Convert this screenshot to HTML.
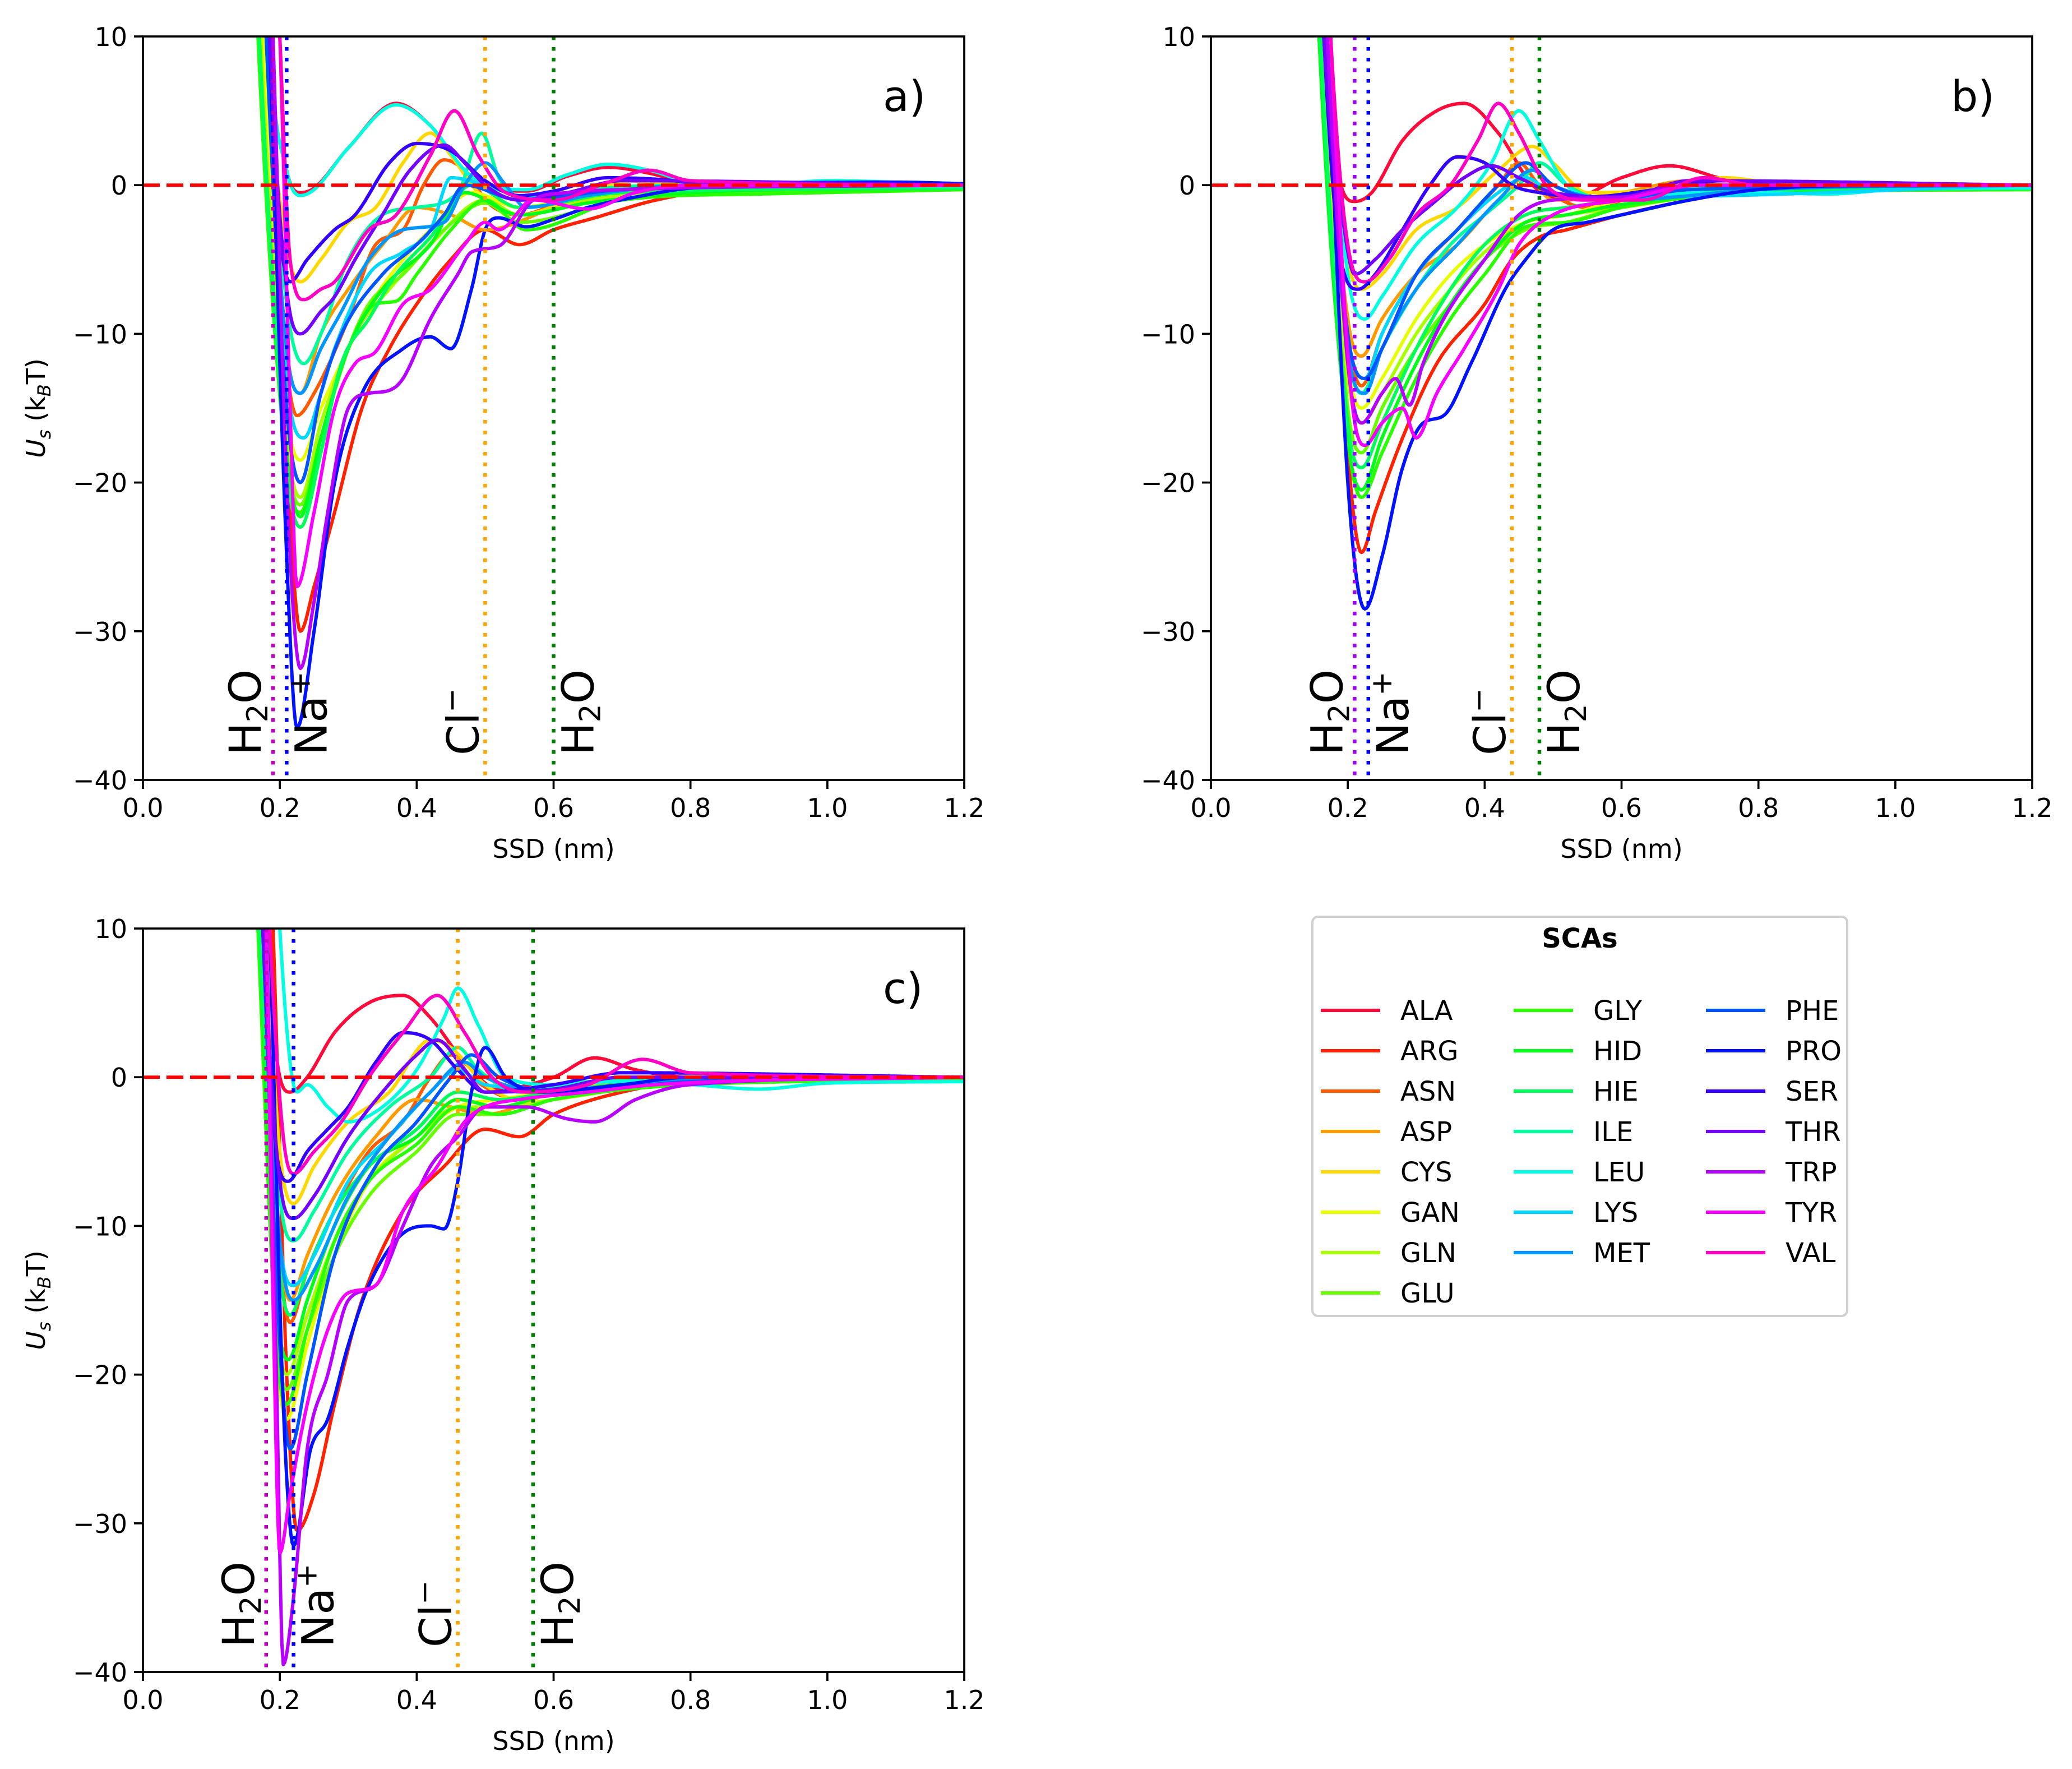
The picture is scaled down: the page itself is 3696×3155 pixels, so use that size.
<!DOCTYPE html>
<html><head><meta charset="utf-8">
<style>
html,body{margin:0;padding:0;background:#fff;}
svg{display:block;font-family:"DejaVu Sans","Liberation Sans",sans-serif;}
</style></head>
<body>
<svg id="fig" xmlns="http://www.w3.org/2000/svg" width="3696" height="3155" viewBox="0 0 3696 3155">
<rect width="3696" height="3155" fill="#fff"/>
</svg>
<script>
const seriesNames = ["ALA","ARG","ASN","ASP","CYS","GAN","GLN","GLU","GLY","HID","HIE","ILE","LEU","LYS","MET","PHE","PRO","SER","THR","TRP","TYR","VAL"];
const seriesColors = ["#ff0a3a","#ff2200","#ff5a00","#ff9a00","#ffd800","#e8ff00","#a8ff00","#68ff00","#28ff00","#00ff18","#00ff5a","#00ff9c","#00ffe0","#00d8ff","#0096ff","#0055ff","#0012ff","#3300ff","#7400ff","#b700ff","#f800ff","#ff00c4"];
const xTicks = [0,0.2,0.4,0.6,0.8,1.0,1.2];
const xTickLabels = ["0.0","0.2","0.4","0.6","0.8","1.0","1.2"];
const yTicks = [10,0,-10,-20,-30,-40];
const yTickLabels = ["10","0","\u221210","\u221220","\u221230","\u221240"];

const dataA = [
[0.15,60,0.185,10,0.21,1,0.23,-0.5,0.25,-0.2,0.3,2.5,0.37,5.5,0.42,4,0.47,1,0.5,0,0.56,-0.4,0.62,0.6,0.68,1.2,0.74,0.8,0.8,0.1,0.9,-0.3,1.0,0.1,1.2,0],
[0.14,60,0.185,10,0.21,-18,0.23,-30,0.25,-27,0.28,-22,0.32,-15,0.36,-11,0.4,-8,0.45,-5,0.5,-3,0.55,-4,0.6,-3,0.66,-2.2,0.75,-1,0.85,-0.3,1.0,-0.2,1.2,-0.1],
[0.14,60,0.18,10,0.21,-12,0.225,-15.5,0.25,-14,0.3,-9,0.34,-4,0.38,-3,0.41,0,0.44,1.7,0.48,0.5,0.5,-1,0.55,-2,0.62,-1,0.7,-0.5,0.8,-0.2,1.2,0],
[0.14,60,0.18,10,0.21,-11,0.23,-14,0.26,-10,0.3,-7,0.35,-4,0.4,-1.5,0.45,-2,0.5,-3,0.6,-1.5,0.7,0.3,0.8,0,1.2,-0.1],
[0.14,60,0.18,10,0.21,-4,0.23,-6.5,0.26,-5,0.3,-2.5,0.34,-1.5,0.38,1.5,0.42,3.5,0.45,2,0.49,-0.5,0.55,-2,0.65,-0.5,0.72,0.3,0.8,0,1.2,-0.1],
[0.13,60,0.175,10,0.21,-15,0.23,-18.5,0.26,-15,0.3,-11,0.34,-7.5,0.38,-5,0.42,-3,0.48,-0.5,0.55,-1.5,0.65,-0.6,0.8,0,1.2,-0.2],
[0.13,60,0.172,10,0.21,-17,0.23,-21,0.26,-16,0.31,-10,0.36,-7,0.42,-4,0.5,-1,0.55,-2,0.65,-1,0.8,-0.3,1.2,-0.2],
[0.13,60,0.17,10,0.21,-18,0.23,-21.5,0.26,-17,0.3,-11,0.33,-8,0.38,-6,0.44,-3,0.5,-1.2,0.55,-2.5,0.7,-1,0.85,-0.5,1.2,-0.3],
[0.13,60,0.168,10,0.21,-19,0.23,-22,0.26,-17,0.3,-11,0.34,-8,0.37,-7.8,0.4,-6,0.45,-3,0.5,-1,0.56,-3,0.7,-1,0.9,-0.6,1.2,-0.3],
[0.13,60,0.17,10,0.21,-18,0.23,-22.3,0.26,-17,0.3,-11,0.35,-7,0.42,-4,0.47,-0.5,0.55,-2,0.65,-1.2,0.8,-0.5,1.2,-0.2],
[0.13,60,0.17,10,0.21,-19,0.23,-23,0.26,-18,0.29,-12,0.33,-9,0.37,-6,0.42,-3.5,0.48,0,0.55,-1.5,0.7,-0.5,1.2,-0.2],
[0.14,60,0.18,10,0.21,-8,0.235,-12,0.26,-10,0.3,-5,0.35,-2,0.4,-1.5,0.46,-0.5,0.495,3.5,0.52,0.5,0.56,-1,0.65,-0.3,0.8,0,1.2,-0.1],
[0.15,60,0.185,10,0.21,1,0.23,-0.7,0.25,-0.3,0.3,2.5,0.37,5.4,0.42,4,0.47,1,0.5,0,0.56,-0.3,0.62,0.7,0.68,1.4,0.74,1,0.8,0.2,0.9,0,1.0,0.3,1.2,0],
[0.14,60,0.18,10,0.21,-13,0.235,-17,0.26,-14,0.28,-11,0.33,-6,0.38,-4.5,0.42,-3,0.45,0.5,0.5,0,0.56,-0.8,0.65,-0.4,1.2,0],
[0.14,60,0.18,10,0.21,-11,0.23,-14,0.26,-11,0.29,-8.5,0.33,-5,0.38,-3,0.44,-2.5,0.47,0,0.5,1.5,0.53,0,0.56,-1.5,0.65,-0.7,0.8,0,1.2,0],
[0.14,60,0.18,10,0.21,-15,0.23,-20,0.26,-14,0.29,-10,0.35,-6,0.4,-4,0.44,-2,0.47,0,0.55,-1,0.7,-0.3,1.2,0.1],
[0.145,60,0.185,10,0.21,-25,0.225,-36.5,0.25,-30,0.28,-20,0.32,-14,0.38,-11,0.42,-10.2,0.45,-11,0.48,-7,0.5,-3,0.52,-2.2,0.56,-2.8,0.6,-2.3,0.65,-1.5,0.72,-0.8,0.8,-0.2,1.1,0.2,1.2,0.1],
[0.15,60,0.185,10,0.2,-3,0.215,-6.5,0.24,-5,0.28,-3,0.31,-2,0.36,1.5,0.4,2.8,0.45,2.3,0.5,0.3,0.55,-0.7,0.6,-0.4,0.68,0.5,0.75,0.4,0.85,0,1.2,0],
[0.15,60,0.185,10,0.21,-7,0.23,-10,0.26,-8.5,0.28,-7.5,0.31,-5,0.35,-2,0.39,1,0.44,2.7,0.47,1.5,0.5,0,0.55,-1,0.62,-0.5,0.7,0.3,1.2,0],
[0.15,60,0.19,10,0.21,-20,0.23,-32.5,0.25,-28,0.27,-22,0.3,-15,0.33,-14,0.36,-13.8,0.38,-13,0.42,-9,0.46,-6,0.48,-4.5,0.52,-4.1,0.57,-1,0.62,-0.5,0.7,-0.3,1.2,0],
[0.155,60,0.2,10,0.215,-15,0.225,-27,0.25,-22,0.28,-15,0.31,-12,0.34,-11.2,0.38,-8,0.42,-7,0.47,-4,0.5,-2.5,0.52,-3,0.57,-1,0.65,-1.6,0.72,-0.5,0.8,0,1.2,0],
[0.155,60,0.2,10,0.215,-5,0.235,-7.7,0.26,-7,0.28,-6.5,0.33,-3,0.37,-2,0.42,2,0.455,5,0.49,2,0.53,-0.5,0.6,-1,0.68,0.2,0.74,1,0.8,0.3,1.2,0]
];
const dataB = [
[0.13,60,0.165,10,0.19,0,0.21,-1.1,0.235,-0.5,0.28,3,0.33,5,0.37,5.5,0.42,3.5,0.47,0,0.52,-1,0.6,0.5,0.67,1.3,0.75,0.4,0.8,0,1.2,0],
[0.12,60,0.165,10,0.2,-18,0.22,-24.7,0.24,-22,0.28,-17,0.33,-12,0.4,-8,0.44,-5,0.48,-3.5,0.52,-3,0.6,-2,0.7,-1,0.8,-0.3,1.2,-0.1],
[0.12,60,0.165,10,0.2,-10,0.22,-13.5,0.25,-10,0.3,-6,0.36,-3,0.42,0,0.45,1.5,0.48,0,0.55,-1.5,0.65,-0.5,1.2,0],
[0.12,60,0.165,10,0.2,-9,0.22,-11.5,0.25,-9,0.3,-6,0.36,-4,0.42,-1,0.46,0.5,0.5,-1,0.6,-0.5,0.7,0.3,1.2,0],
[0.12,60,0.165,10,0.2,-5,0.22,-7,0.25,-6,0.3,-3,0.36,-1.5,0.42,1,0.47,2.6,0.5,1.5,0.55,-0.5,0.65,-0.3,0.75,0.5,0.85,0,1.2,0],
[0.12,60,0.16,10,0.2,-12,0.22,-15,0.25,-13,0.3,-9,0.35,-6,0.4,-4,0.46,-2.5,0.52,-2,0.6,-1,0.8,0,1.2,0],
[0.12,60,0.16,10,0.2,-13,0.22,-16,0.25,-14,0.3,-10,0.35,-7,0.4,-4.5,0.46,-2.5,0.52,-2,0.6,-1.5,0.8,-0.3,1.2,-0.2],
[0.12,60,0.16,10,0.2,-15,0.22,-18,0.25,-15,0.3,-11,0.35,-8,0.4,-5,0.46,-3,0.52,-2.5,0.6,-1.5,0.8,-0.5,1.2,-0.3],
[0.12,60,0.158,10,0.2,-17,0.22,-21,0.25,-18,0.3,-13,0.35,-9,0.4,-6,0.46,-2.8,0.52,-2.5,0.6,-1.5,0.8,-0.5,1.2,-0.3],
[0.12,60,0.158,10,0.2,-17,0.22,-20.5,0.25,-17,0.3,-12,0.35,-8,0.4,-5,0.46,-2.5,0.52,-2,0.6,-1.3,0.8,-0.4,1.2,-0.2],
[0.12,60,0.16,10,0.2,-16,0.22,-19,0.25,-16,0.3,-11,0.35,-7,0.4,-4,0.46,-2,0.52,-1.5,0.6,-1,0.8,-0.3,1.2,-0.2],
[0.12,60,0.165,10,0.2,-11,0.22,-14,0.25,-11,0.3,-7,0.35,-4,0.4,-2,0.45,0,0.48,1.5,0.52,0,0.58,-1,0.7,-0.2,1.2,0],
[0.125,60,0.17,10,0.2,-6,0.225,-9,0.25,-7.5,0.3,-4,0.36,-1.5,0.41,1.5,0.45,5,0.48,3,0.52,0,0.58,-1,0.7,-0.5,0.8,-0.5,0.9,-0.6,1.0,-0.3,1.2,-0.2],
[0.12,60,0.165,10,0.2,-10,0.225,-13,0.25,-10,0.3,-6,0.36,-3,0.42,-0.5,0.46,0.5,0.5,-0.5,0.6,-0.8,1.2,0],
[0.12,60,0.165,10,0.2,-11,0.225,-14,0.25,-11,0.3,-7,0.36,-4,0.42,-1,0.47,1,0.5,0,0.6,-1,0.8,-0.3,1.2,0],
[0.12,60,0.165,10,0.2,-10,0.225,-13,0.25,-11,0.3,-6,0.36,-3,0.42,0,0.46,1.5,0.5,0,0.58,-1,0.7,-0.3,1.2,0],
[0.125,60,0.17,10,0.2,-20,0.225,-28.5,0.25,-25,0.28,-19,0.31,-16,0.34,-15.5,0.38,-12,0.43,-7,0.46,-5,0.5,-3,0.55,-2.5,0.6,-2,0.7,-1,0.8,-0.3,1.0,0,1.2,0],
[0.125,60,0.165,10,0.19,-5,0.215,-7,0.24,-6,0.28,-3,0.32,0,0.36,1.9,0.4,1.5,0.44,0,0.48,-0.5,0.55,-0.8,0.65,-0.3,0.75,0.3,0.85,0,1.2,0],
[0.125,60,0.165,10,0.195,-3,0.21,-6,0.24,-5,0.28,-3,0.33,-1,0.37,0.5,0.41,1.3,0.45,0.5,0.5,-0.5,0.6,-0.8,0.7,0.3,1.2,0],
[0.125,60,0.17,10,0.2,-12,0.22,-16,0.25,-14,0.27,-13,0.29,-14.8,0.31,-12,0.34,-9,0.4,-5,0.45,-2,0.5,-1,0.6,-0.8,0.7,0,1.2,0],
[0.13,60,0.175,10,0.205,-14,0.225,-17.5,0.25,-16,0.28,-15,0.3,-17,0.33,-14,0.37,-11,0.42,-7,0.45,-4,0.5,-2,0.6,-1,0.72,0,1.2,0],
[0.13,60,0.175,10,0.2,-4,0.225,-6.5,0.26,-5,0.3,-2,0.35,0,0.39,3,0.42,5.5,0.45,3.5,0.49,0,0.55,-1,0.63,-1,0.72,0.5,0.8,0,1.2,0]
];
const dataC = [
[0.13,60,0.18,10,0.2,0,0.215,-1,0.24,0,0.28,3,0.33,5,0.38,5.5,0.42,4,0.47,1,0.52,-0.8,0.6,0,0.66,1.3,0.72,0.5,0.8,0,1.2,0],
[0.14,60,0.19,10,0.21,-20,0.225,-30.5,0.25,-28,0.28,-22,0.32,-15,0.38,-9,0.44,-6,0.5,-3.5,0.55,-4,0.6,-2.5,0.7,-1,0.8,-0.3,1.2,0],
[0.13,60,0.175,10,0.2,-12,0.215,-16.5,0.24,-13,0.28,-9,0.33,-5,0.38,-3,0.42,0,0.45,1.5,0.48,0,0.55,-1.5,0.65,-0.5,1.2,0],
[0.13,60,0.175,10,0.2,-11,0.215,-15,0.24,-12,0.28,-8,0.34,-4,0.4,-1.5,0.45,-2,0.5,-2.5,0.6,-1,0.7,0,1.2,0],
[0.13,60,0.18,10,0.2,-5,0.22,-8.5,0.25,-6,0.3,-3,0.36,-1,0.42,2.5,0.45,2,0.5,-0.5,0.55,-1.5,0.65,-0.5,0.8,0,1.2,0],
[0.125,60,0.17,10,0.195,-18,0.21,-23,0.24,-18,0.28,-12,0.33,-7,0.4,-4,0.46,-2,0.52,-1.5,0.6,-1,0.8,-0.3,1.2,0],
[0.125,60,0.17,10,0.195,-16,0.21,-20,0.24,-16,0.28,-11,0.33,-7,0.4,-4,0.46,-2,0.52,-2,0.6,-1.5,0.8,-0.3,1.2,-0.1],
[0.125,60,0.168,10,0.195,-17,0.21,-21,0.24,-17,0.28,-12,0.33,-8,0.4,-5,0.46,-2.5,0.52,-2.5,0.6,-1.5,0.8,-0.5,1.2,-0.2],
[0.125,60,0.168,10,0.195,-18,0.21,-22,0.24,-17,0.28,-11,0.33,-7,0.4,-4.5,0.46,-2,0.52,-2.5,0.6,-1.5,0.8,-0.5,1.2,-0.2],
[0.125,60,0.17,10,0.195,-15,0.212,-19,0.24,-15,0.28,-10,0.33,-6,0.4,-4,0.46,-1.5,0.52,-2,0.6,-1,0.8,-0.3,1.2,0],
[0.125,60,0.17,10,0.2,-13,0.215,-16,0.24,-13,0.28,-9,0.33,-6,0.4,-3.5,0.46,-1,0.52,-1.5,0.6,-1,0.8,-0.2,1.2,0],
[0.13,60,0.175,10,0.2,-8,0.22,-11,0.25,-9,0.3,-5,0.36,-2,0.42,0,0.46,2,0.49,0.5,0.55,-1,0.65,-0.3,1.2,0],
[0.15,60,0.2,10,0.215,1,0.225,-1,0.24,-0.5,0.27,-2,0.3,-3,0.35,-2,0.4,0.5,0.44,4,0.46,6,0.49,3.5,0.53,0,0.6,-0.5,0.7,-0.3,0.8,-0.5,0.9,-0.8,1.0,-0.4,1.2,-0.3],
[0.13,60,0.175,10,0.2,-11,0.22,-14,0.25,-12,0.3,-7,0.36,-4,0.42,-1,0.46,0.5,0.5,-0.5,0.6,-0.8,0.8,-0.2,1.2,0],
[0.13,60,0.175,10,0.2,-11,0.22,-15,0.25,-13,0.3,-8,0.36,-4,0.42,-1,0.47,1,0.5,0,0.6,-1,0.8,-0.2,1.2,0],
[0.13,60,0.175,10,0.2,-18,0.215,-25,0.24,-20,0.28,-12,0.34,-6,0.4,-3,0.45,0,0.48,1.5,0.52,0,0.6,-1,0.8,-0.3,1.2,0],
[0.14,60,0.185,10,0.205,-22,0.22,-31.5,0.245,-25,0.27,-23,0.3,-18,0.33,-14,0.38,-10.5,0.42,-10,0.44,-10.2,0.46,-7,0.48,-1,0.5,2,0.53,0,0.58,-1,0.7,-0.5,0.8,0,1.2,0],
[0.13,60,0.175,10,0.195,-5,0.212,-7,0.24,-5,0.27,-3.5,0.3,-2,0.34,1,0.38,3,0.42,2.5,0.46,0.5,0.5,-1,0.6,-0.5,0.7,0.3,1.2,0],
[0.13,60,0.175,10,0.2,-7,0.22,-9.5,0.25,-8,0.3,-4,0.35,-1,0.4,1.5,0.43,2.5,0.47,0.5,0.5,-1,0.6,-0.8,0.7,0,1.2,0],
[0.135,60,0.18,10,0.195,-20,0.205,-39.5,0.22,-35,0.24,-25,0.27,-20,0.3,-15,0.34,-14,0.38,-10,0.42,-6,0.46,-4,0.5,-2,0.56,-2,0.62,-2.8,0.66,-3,0.72,-1.5,0.8,-0.5,1.2,0],
[0.135,60,0.18,10,0.19,-15,0.2,-32,0.215,-28,0.24,-22,0.27,-17,0.3,-14.5,0.34,-14,0.38,-9,0.43,-6,0.47,-3,0.5,-2,0.55,-1.5,0.65,-1,0.75,-0.5,1.2,0],
[0.14,60,0.185,10,0.205,-4,0.22,-6.5,0.25,-5,0.29,-3,0.33,0,0.38,3,0.43,5.5,0.47,3,0.51,0,0.56,-1,0.65,-0.5,0.73,1.2,0.8,0.3,1.2,0]
];
const refA = [0.19,0.21,0.5,0.6];
const refB = [0.21,0.23,0.44,0.48];
const refC = [0.18,0.22,0.46,0.57];

const NS = "http://www.w3.org/2000/svg";
const svg = document.getElementById("fig");
function el(tag, attrs, parent){
  const e = document.createElementNS(NS, tag);
  for (const k in attrs) e.setAttribute(k, attrs[k]);
  (parent||svg).appendChild(e);
  return e;
}
function monotone(xs, ys){
  const n = xs.length, d = [], m = [];
  for (let i=0;i<n-1;i++) d.push((ys[i+1]-ys[i])/(xs[i+1]-xs[i]));
  m[0]=d[0]; m[n-1]=d[n-2];
  for (let i=1;i<n-1;i++){ m[i] = (d[i-1]*d[i]<=0)?0:(d[i-1]+d[i])/2; }
  for (let i=0;i<n-1;i++){
    if (d[i]===0){m[i]=0;m[i+1]=0;continue;}
    const a=m[i]/d[i], b=m[i+1]/d[i], s=a*a+b*b;
    if (s>9){const t=3/Math.sqrt(s); m[i]=t*a*d[i]; m[i+1]=t*b*d[i];}
  }
  return function(x){
    let i=0; while(i<n-2 && x>xs[i+1]) i++;
    const h=xs[i+1]-xs[i], t=(x-xs[i])/h, t2=t*t, t3=t2*t;
    return (2*t3-3*t2+1)*ys[i]+(t3-2*t2+t)*h*m[i]+(-2*t3+3*t2)*ys[i+1]+(t3-t2)*h*m[i+1];
  };
}

function drawPanel(id, L, T, data, refs, refColors, label, labelPos){
  const W=1465, H=1326, R=L+W, B=T+H;
  const sx = v => L + v/1.2*W;
  const sy = v => T + (10-v)/50*H;
  const g = el("g", {});
  
  
  const cp = el("clipPath", {id:"clip"+id}, g);
  el("rect", {x:L, y:T, width:W, height:H}, cp);
  const cg = el("g", {"clip-path":"url(#clip"+id+")"}, g);
  data.forEach((arr, si) => {
    const xs=[], ys=[];
    for (let i=0;i<arr.length;i+=2){xs.push(arr[i]); ys.push(arr[i+1]);}
    const f = monotone(xs, ys);
    let d="";
    for (let x=xs[0]; x<=xs[xs.length-1]+1e-9; x+=0.002){
      const y=Math.max(-60,Math.min(70,f(x)));
      d += (d?"L":"M")+sx(x).toFixed(1)+","+sy(y).toFixed(1);
    }
    const p = el("path", {d:d, fill:"none", stroke:seriesColors[si], "stroke-width":6, "stroke-linejoin":"round"}, cg);
    
    
  });
  refs.forEach((r, i) => {
    const ln = el("line", {x1:sx(r), x2:sx(r), y1:T, y2:B, stroke:refColors[i], "stroke-width":6.5, "stroke-dasharray":"6.5 12.5"}, g);
    
    
  });
  const z = el("line", {x1:L, x2:R, y1:sy(0), y2:sy(0), stroke:"#ff0000", "stroke-width":6, "stroke-dasharray":"30 12"}, cg);
  
  
  const fr = el("rect", {x:L, y:T, width:W, height:H, fill:"none", stroke:"#000", "stroke-width":3.7}, g);
  
  
  xTicks.forEach((v,i) => {
    el("line", {x1:sx(v), x2:sx(v), y1:B, y2:B+16, stroke:"#000", "stroke-width":3.7}, g);
    const t = el("text", {x:sx(v), y:B+66, "font-size":46, "text-anchor":"middle"}, g);
    t.textContent = xTickLabels[i];
    
    
  });
  yTicks.forEach((v,i) => {
    el("line", {x1:L-16, x2:L, y1:sy(v), y2:sy(v), stroke:"#000", "stroke-width":3.7}, g);
    const t = el("text", {x:L-28, y:sy(v)+17, "font-size":46, "text-anchor":"end"}, g);
    t.textContent = yTickLabels[i];
    
    
  });
  const xl = el("text", {x:L+W/2, y:B+139, "font-size":46, "text-anchor":"middle"}, g);
  xl.textContent = "SSD (nm)";
  
  
  const yl = el("text", {x:0, y:0, "font-size":46, "text-anchor":"middle", transform:"translate(80,"+(T+H/2)+") rotate(-90)"}, g);
  yl.innerHTML = '<tspan font-style="italic">U</tspan><tspan font-style="italic" font-size="32" dy="10">s</tspan><tspan dy="-10"> (k</tspan><tspan font-style="italic" font-size="32" dy="10">B</tspan><tspan dy="-10">T)</tspan>';
  
  
  const ann = [
    {x:sx(refs[0])-22, html:'H<tspan font-size="52" dy="12">2</tspan><tspan dy="-12">O</tspan>', n:'water'},
    {x:sx(refs[1])+71, html:'Na<tspan font-size="52" dy="-30">+</tspan>', n:'sodium'},
    {x:sx(refs[2])-12, html:'Cl<tspan font-size="52" dy="-30">\u2212</tspan>', n:'chloride'},
    {x:sx(refs[3])+71, html:'H<tspan font-size="52" dy="12">2</tspan><tspan dy="-12">O</tspan>', n:'water-2'}
  ];
  ann.forEach(a => {
    const t = el("text", {x:0, y:0, "font-size":78, transform:"translate("+a.x+","+(B-44)+") rotate(-90)"}, g);
    t.innerHTML = a.html;
    
    
  });
  const pl = el("text", {x:labelPos[0], y:labelPos[1], "font-size":76}, g);
  pl.textContent = label;
  
  
}

drawPanel("a", 255, 65, dataA, refA, ["#bf00bf","#0000ff","#ffa500","#008000"], "a)", [1575,198]);
drawPanel("b", 2160, 65, dataB, refB, ["#a000ff","#0000ff","#ffa500","#008000"], "b)", [3480,198]);
drawPanel("c", 255, 1656, dataC, refC, ["#bf00bf","#0000ff","#ffa500","#008000"], "c)", [1575,1789]);

const lg = el("g", {});


el("rect", {x:2341, y:1635, width:954, height:712, rx:10, fill:"#fff", stroke:"#d0d0d0", "stroke-width":4}, lg);
const lt = el("text", {x:2818, y:1690, "font-size":48, "font-weight":"bold", "text-anchor":"middle"}, lg);
lt.textContent = "SCAs";


const colX = [2356, 2700, 3043];
const colN = [8, 7, 7];
let idx = 0;
for (let c=0;c<3;c++){
  for (let r=0;r<colN[c];r++){
    const y = 1802 + r*72;
    const e = el("g", {}, lg);
    
    
    el("line", {x1:colX[c], x2:colX[c]+106, y1:y, y2:y, stroke:seriesColors[idx], "stroke-width":6}, e);
    const t = el("text", {x:colX[c]+142, y:y+17, "font-size":48}, e);
    t.textContent = seriesNames[idx];
    idx++;
  }
}
</script>
</body></html>
